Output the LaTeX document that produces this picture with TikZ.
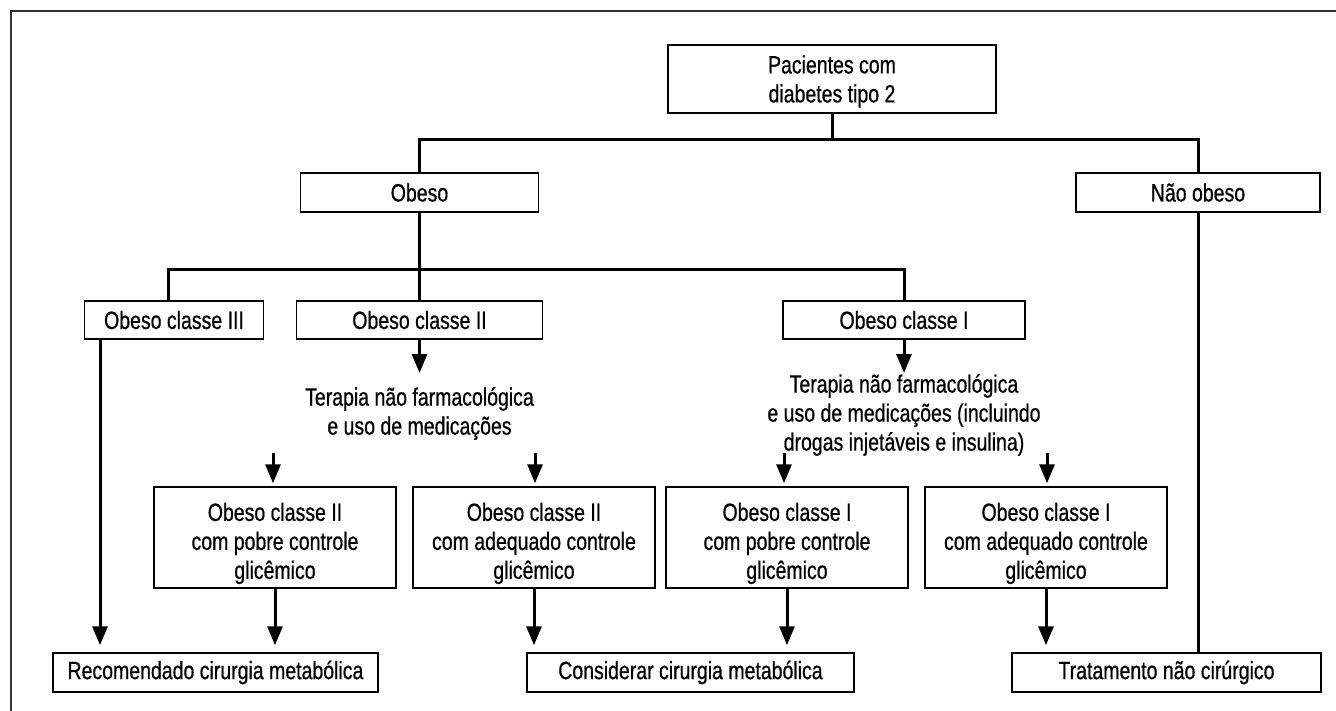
\documentclass[tikz,border=0pt]{standalone}
\usepackage{fontspec}
\setmainfont{Liberation Sans}[FakeStretch=0.78,FakeBold=0.6]
\usetikzlibrary{arrows.meta,calc}
\newcommand\diagfont{\fontsize{25}{29}\selectfont}
\newcommand\tallstrut[1]{\rule{0pt}{#1}}
\begin{document}
\begin{tikzpicture}[x=1pt,y=-1pt,
  box/.style={draw, line width=1.5pt, inner sep=0pt, align=center, font=\diagfont},
  lbl/.style={inner sep=0pt, align=center, font=\diagfont, anchor=north},
  conn/.style={line width=3pt},
  arr/.style={line width=3pt, -{Triangle[width=15pt,length=19pt]}}]
\fill[white] (0,0) rectangle (1336,711);
\useasboundingbox (0,0) rectangle (1336,711);
\draw[line width=1.5pt, black!80] (11,711) -- (11,11) -- (1336,11);

% nodes
\node[box, minimum width=328pt, minimum height=68pt] (P) at (832,79) {\tallstrut{23pt}Pacientes com\\diabetes tipo 2};
\node[box, minimum width=238pt, minimum height=39pt] (obeso) at (419.5,192.5) {Obeso};
\node[box, minimum width=244pt, minimum height=39pt] (nao) at (1198,192.5) {Não obeso};
\node[box, minimum width=179pt, minimum height=38pt] (ob3) at (174,320) {Obeso classe III};
\node[box, minimum width=246pt, minimum height=38pt] (ob2) at (419.5,320) {Obeso classe II};
\node[box, minimum width=242pt, minimum height=38pt] (ob1) at (904,320) {Obeso classe I};
\node[lbl] (tl) at (419.5,387) {Terapia não farmacológica\\e uso de medicações};
\node[lbl] (tr) at (904,374) {Terapia não farmacológica\\e uso de medicações (incluindo\\drogas injetáveis e insulina)};
\node[box, minimum width=242pt, minimum height=101pt] (b1) at (275,537.5) {\tallstrut{30pt}Obeso classe II\\com pobre controle\\glicêmico};
\node[box, minimum width=242pt, minimum height=101pt] (b2) at (534,537.5) {\tallstrut{30pt}Obeso classe II\\com adequado controle\\glicêmico};
\node[box, minimum width=242pt, minimum height=101pt] (b3) at (787,537.5) {\tallstrut{30pt}Obeso classe I\\com pobre controle\\glicêmico};
\node[box, minimum width=242pt, minimum height=101pt] (b4) at (1046,537.5) {\tallstrut{30pt}Obeso classe I\\com adequado controle\\glicêmico};
\node[box, minimum width=325pt, minimum height=39pt] (rec) at (215.5,672.5) {Recomendado cirurgia metabólica};
\node[box, minimum width=327pt, minimum height=39pt] (con) at (690.5,672.5) {Considerar cirurgia metabólica};
\node[box, minimum width=309pt, minimum height=39pt] (trat) at (1166.5,672.5) {Tratamento não cirúrgico};

% helper coordinates
\coordinate (j1) at (832,140);
\coordinate (k) at (168,270);
\coordinate (a2) at (419.5,373);
\coordinate (a1) at (904,373);
\coordinate (u1) at (273,453);
\coordinate (u2) at (535,453);
\coordinate (u3) at (784,453);
\coordinate (u4) at (1047,453);
\coordinate (s3) at (100,0);

% connectors
\draw[conn] (P.south) -- (P.south |- j1);
\draw[conn] (obeso.north) -- (obeso.north |- j1) -- (nao.north |- j1) -- (nao.north);
\draw[conn] (ob3.north -| k) -- (k) -- (k -| ob1.north) -- (ob1.north);
\draw[conn] (obeso.south) -- (ob2.north);
\draw[arr] (ob2.south) -- (a2);
\draw[arr] (ob1.south) -- (a1);
\draw[arr, shorten >=3pt] (u1) -- (u1 |- b1.north);
\draw[arr, shorten >=3pt] (u2) -- (u2 |- b2.north);
\draw[arr, shorten >=3pt] (u3) -- (u3 |- b3.north);
\draw[arr, shorten >=3pt] (u4) -- (u4 |- b4.north);
\draw[arr, shorten >=7pt] (ob3.south -| s3) -- (s3 |- rec.north);
\draw[arr, shorten >=7pt] (b1.south) -- (b1.south |- rec.north);
\draw[arr, shorten >=7pt] (b2.south) -- (b2.south |- con.north);
\draw[arr, shorten >=7pt] (b3.south) -- (b3.south |- con.north);
\draw[arr, shorten >=7pt] (b4.south) -- (b4.south |- trat.north);
\draw[conn] (nao.south) -- (nao.south |- trat.north);
\end{tikzpicture}
\end{document}
